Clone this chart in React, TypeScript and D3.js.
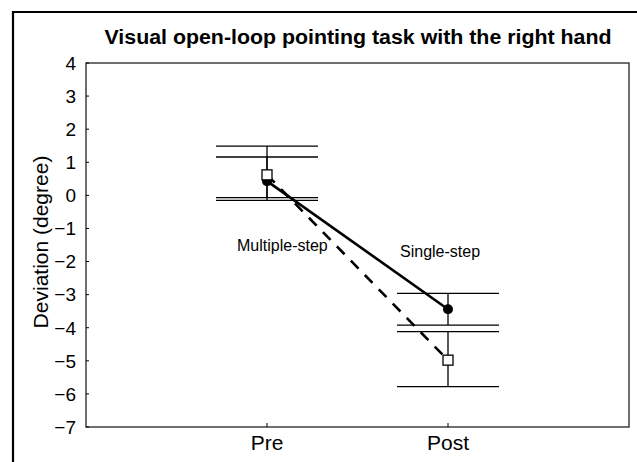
import React from "react";
import * as d3 from "d3";

const categories = ["Pre", "Post"];
const yTicks = [4, 3, 2, 1, 0, -1, -2, -3, -4, -5, -6, -7];

// Single-step (filled circle, solid line)
const singleMean = [0.43, -3.44];
const singleUpper = [1.16, -2.96];
const singleLower = [-0.07, -3.92];

// Multiple-step (open square, dashed line)
const multiMean = [0.62, -4.98];
const multiUpper = [1.49, -4.12];
const multiLower = [-0.15, -5.78];

const W = 637;
const H = 462;
const M = { left: 86, right: 629, top: 63, bottom: 427 };
const FONT = "'Liberation Sans', Arial, sans-serif";

export default function App() {
  const x = d3.scaleLinear().domain([0, 3]).range([M.left, M.right]);
  const y = d3.scaleLinear().domain([-7, 4]).range([M.bottom, M.top]);
  const xi = (i: number) => x(i + 1);
  const capHalf = 51;

  const lineGen = d3
    .line<number>()
    .x((_, i) => xi(i))
    .y((d) => y(d));

  const errBars = (upper: number[], lower: number[], key: string) =>
    categories.map((_, i) => (
      <g key={key + i} stroke="#000" strokeWidth={1.3}>
        <line x1={xi(i)} x2={xi(i)} y1={y(upper[i])} y2={y(lower[i])} />
        <line x1={xi(i) - capHalf} x2={xi(i) + capHalf} y1={y(upper[i])} y2={y(upper[i])} />
        <line x1={xi(i) - capHalf} x2={xi(i) + capHalf} y1={y(lower[i])} y2={y(lower[i])} />
      </g>
    ));

  return (
    <svg
      width={W}
      height={H}
      style={{ position: "absolute", left: 0, top: 0, background: "#fff" }}
    >
      {/* outer frame */}
      <path d={`M13,${H + 5} L13,12 L${W + 5},12`} fill="none" stroke="#000" strokeWidth={2.2} />

      <text
        x={358}
        y={44}
        textAnchor="middle"
        fontFamily={FONT}
        fontWeight="bold"
        fontSize={20}
        textLength={507}
        lengthAdjust="spacingAndGlyphs"
      >
        Visual open-loop pointing task with the right hand
      </text>

      {/* plot frame */}
      <rect
        x={M.left}
        y={M.top}
        width={M.right - M.left}
        height={M.bottom - M.top}
        fill="none"
        stroke="#222"
        strokeWidth={1.3}
      />

      {/* y ticks */}
      {yTicks.map((t) => (
        <g key={"yt" + t}>
          <line x1={M.left} x2={M.left + 3} y1={y(t)} y2={y(t)} stroke="#000" strokeWidth={1} />
          <text
            x={M.left - 10}
            y={y(t)}
            dy="0.36em"
            textAnchor="end"
            fontFamily={FONT}
            fontSize={19}
          >
            {t < 0 ? "\u2212" + Math.abs(t) : String(t)}
          </text>
        </g>
      ))}

      {/* x ticks */}
      {categories.map((c, i) => (
        <g key={"xt" + c}>
          <line x1={xi(i)} x2={xi(i)} y1={M.bottom} y2={M.bottom - 4} stroke="#000" strokeWidth={1} />
          <text x={xi(i)} y={M.bottom + 23} textAnchor="middle" fontFamily={FONT} fontSize={21}>
            {c}
          </text>
        </g>
      ))}

      <text
        transform={`translate(48,${(M.top + M.bottom) / 2 - 3}) rotate(-90)`}
        textAnchor="middle"
        fontFamily={FONT}
        fontSize={21}
      >
        Deviation (degree)
      </text>

      {errBars(singleUpper, singleLower, "s")}
      {errBars(multiUpper, multiLower, "m")}

      <path d={lineGen(multiMean) || ""} fill="none" stroke="#000" strokeWidth={2.6} strokeDasharray="11 9" />
      <path d={lineGen(singleMean) || ""} fill="none" stroke="#000" strokeWidth={2.6} />

      {singleMean.map((v, i) => (
        <circle key={"c" + i} cx={xi(i)} cy={y(v)} r={5} fill="#000" />
      ))}
      {multiMean.map((v, i) => (
        <rect
          key={"r" + i}
          x={xi(i) - 5}
          y={y(v) - 5}
          width={10}
          height={10}
          fill="#fff"
          stroke="#000"
          strokeWidth={1.3}
        />
      ))}

      <text x={237} y={251} fontFamily={FONT} fontSize={16}>
        Multiple-step
      </text>
      <text x={400} y={257} fontFamily={FONT} fontSize={16}>
        Single-step
      </text>
    </svg>
  );
}
